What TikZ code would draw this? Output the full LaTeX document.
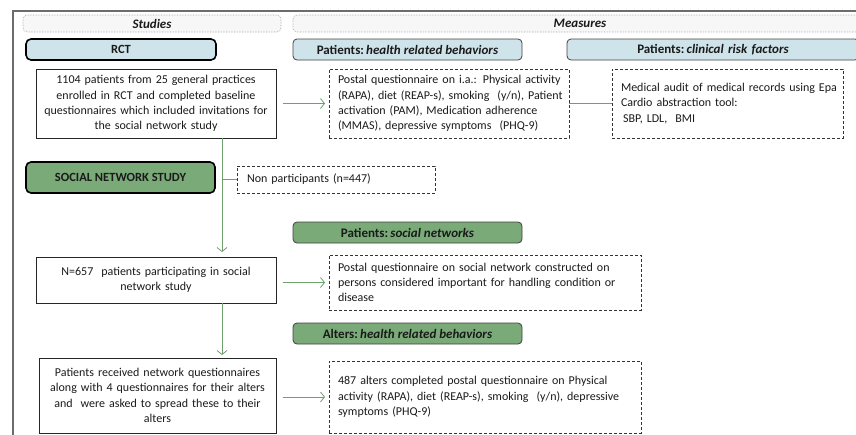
\documentclass[tikz,border=0pt]{standalone}
\usepackage{fontspec}
\setmainfont{Carlito}
\usetikzlibrary{arrows.meta}
\definecolor{lblue}{HTML}{CFE3EA}
\definecolor{lgreen}{HTML}{79AA78}
\definecolor{gline}{HTML}{6E9F6D}
\definecolor{txt}{HTML}{1A1A1A}
\definecolor{hdr}{HTML}{F7F7F7}
\newcommand{\tline}[1]{\mbox{#1}}
\tikzset{
  base/.style={anchor=north west, outer sep=0pt, inner ysep=2pt, inner xsep=9pt, text=txt,
    font=\fontsize{12}{15.3}\selectfont},
  hdrbox/.style={base, draw=gray!80, densely dotted, line width=0.6pt, fill=hdr, rounded corners=4pt,
    align=center, font=\fontsize{13}{15}\selectfont\bfseries\itshape},
  catbox/.style={base, draw=black!75, line width=0.8pt, rounded corners=4pt, align=center,
    font=\fontsize{13}{15}\selectfont\bfseries},
  studybox/.style={base, draw=black, line width=1.6pt, rounded corners=5pt, align=center,
    font=\fontsize{12.5}{15}\selectfont\bfseries},
  solidbox/.style={base, inner xsep=3pt, draw=black!85, line width=0.8pt, align=center},
  dashbox/.style={base, draw=black!80, line width=0.8pt, dash pattern=on 3pt off 2pt, align=left},
  garrow/.style={draw=gline, line width=0.8pt, -{Straight Barb[length=4pt,width=10pt]}},
  gplain/.style={draw=gline, line width=0.8pt},
}
\begin{document}
\begin{tikzpicture}[x=1pt,y=-1pt]
\useasboundingbox (0,0) rectangle (856,434);
% outer frame
\draw[gray!85!black, line width=1.8pt] (13,440) -- (13,11) -- (870,11);
% headers
\node[hdrbox, minimum width=258pt, minimum height=17pt] (hstud) at (23,15) {Studies};
\node[hdrbox, minimum width=574pt, minimum height=17pt, text width=556pt] (hmeas) at (293,15) {Measures};
% category boxes
\node[studybox, fill=lblue, minimum width=190pt, minimum height=21pt] (rct) at (26,39) {RCT};
\node[catbox, fill=lblue, minimum width=229pt, minimum height=21pt] (phb) at (293,39) {Patients:\,\textit{health related behaviors}};
\node[catbox, fill=lblue, minimum width=292pt, minimum height=21pt, text width=274pt] (pcr) at (567,39) {Patients:\,\textit{clinical risk factors}};
\node[studybox, fill=lgreen, minimum width=189pt, minimum height=31pt] (sns) at (26,162) {SOCIAL NETWORK STUDY};
\node[catbox, fill=lgreen, minimum width=229pt, minimum height=21pt] (psn) at (293,222) {Patients:\,\textit{social networks}};
\node[catbox, fill=lgreen, minimum width=229pt, minimum height=21pt] (ahb) at (293,323) {Alters:\,\textit{health related behaviors}};
% content boxes
\node[solidbox, minimum width=240pt, minimum height=69pt, text width=234pt] (b1) at (36,69)
  {\tline{1104 patients from 25 general practices}\\ \tline{enrolled in RCT and completed baseline}\\ \tline{questionnaires which included invitations for}\\ \tline{the social network study}};
\node[dashbox, minimum width=240pt, minimum height=69pt, text width=222pt] (b2) at (329,69)
  {\tline{Postal questionnaire on i.a.: Physical activity}\\ \tline{(RAPA), diet (REAP-s), smoking~ (y/n), Patient}\\ \tline{activation (PAM), Medication adherence}\\ \tline{(MMAS), depressive symptoms~ (PHQ-9)}};
\node[dashbox, minimum width=231pt, minimum height=69pt, text width=213pt] (b3) at (612,69)
  {\tline{Medical audit of medical records using Epa}\\ \tline{Cardio abstraction tool:}\\ \tline{\,SBP, LDL,~ BMI}};
\node[dashbox, inner xsep=10pt, minimum width=198pt, minimum height=27pt, text width=178pt] (np) at (237,166)
  {Non participants (n=447)};
\node[solidbox, minimum width=240pt, minimum height=46pt, text width=234pt] (n657) at (36,257)
  {\tline{N=657~ patients participating in social}\\ \tline{network study}};
\node[dashbox, minimum width=312pt, minimum height=55pt, text width=294pt] (snq) at (329,255)
  {\tline{Postal questionnaire on social network constructed on}\\ \tline{persons considered important for handling condition or}\\ \tline{disease}};
\node[solidbox, minimum width=237pt, minimum height=75pt, text width=231pt] (pr) at (39,358)
  {\tline{Patients received network questionnaires}\\ \tline{along with 4 questionnaires for their alters}\\ \tline{and~ were asked to spread these to their}\\ \tline{alters}};
\node[dashbox, minimum width=312pt, minimum height=72pt, text width=294pt] (alt) at (329,361)
  {\tline{487 alters completed postal questionnaire on Physical}\\ \tline{activity (RAPA), diet (REAP-s), smoking~ (y/n), depressive}\\ \tline{symptoms (PHQ-9)}\\[11pt]};
% connectors
\coordinate (trunk) at (222,0);
\draw[garrow, shorten <=7pt, shorten >=4pt] (b1.east) -- (b2.west);
\draw[gplain] (b2.east) -- (b3.west);
\draw[garrow, shorten >=5pt] (b1.south -| trunk) -- (n657.north -| trunk);
\draw[gplain] (np.west -| trunk) -- (np.west);
\draw[garrow, shorten <=7pt, shorten >=4pt] (n657.east |- snq.west) -- (snq.west);
\draw[garrow, shorten >=3pt] (n657.south -| trunk) -- (pr.north -| trunk);
\draw[garrow, shorten <=7pt, shorten >=4pt] (pr.east |- alt.west) -- (alt.west);
\end{tikzpicture}
\end{document}
